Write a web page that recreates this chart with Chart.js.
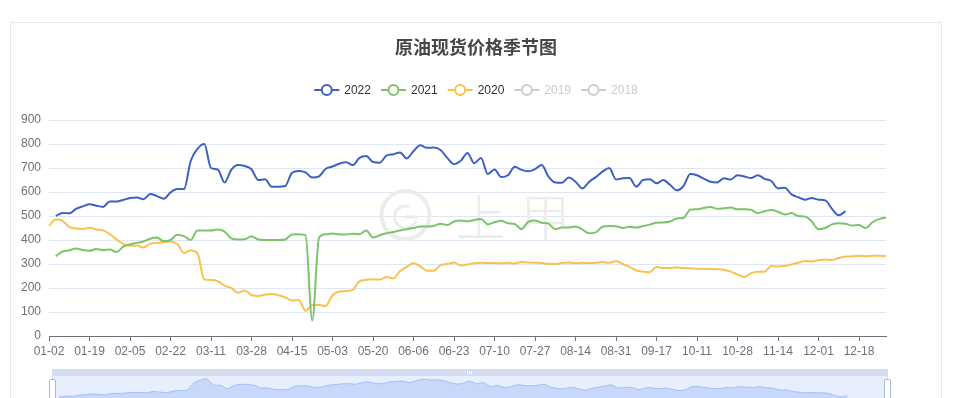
<!DOCTYPE html>
<html><head><meta charset="utf-8">
<script src="https://cdn.jsdelivr.net/npm/chart.js@4.4.1/dist/chart.umd.min.js"></script>
<style>
html,body{margin:0;padding:0;background:#fff;width:955px;height:398px;overflow:hidden;}
#box{position:absolute;left:10px;top:22px;width:930px;height:420px;border:1px solid #e6e6e6;}
#main{position:absolute;left:0;top:0;}
#sliderBg{position:absolute;left:52px;top:375px;width:836px;height:32px;background:#e7eefd;border:1px solid #d2dbee;box-sizing:border-box;}
#sliderBar{position:absolute;left:52px;top:369px;width:836px;height:7px;background:#d4ddef;}
.grip{position:absolute;top:371px;width:1px;height:3px;background:#fff;}
#mini{position:absolute;left:52px;top:376px;}
.handle{position:absolute;top:379px;width:5px;height:26px;background:#fff;border:1px solid #acb8d1;border-radius:2px;}
</style></head>
<body>
<div id="box"></div>
<canvas id="main" width="955" height="398"></canvas>
<div id="sliderBar"></div>
<div class="grip" style="left:467px"></div><div class="grip" style="left:469px"></div><div class="grip" style="left:471px"></div>
<div id="sliderBg"></div>
<canvas id="mini" width="836" height="30"></canvas>
<div class="handle" style="left:49px"></div>
<div class="handle" style="left:884px"></div>
<script>
const chartTitle = '原油现货价格季节图';
const seriesNames = ['2022', '2021', '2020', '2019', '2018'];
const tickEvery = 6;
const categories = [
 '01-02','01-05','01-08','01-10','01-13','01-16','01-19','01-22','01-25','01-27','01-30','02-02',
 '02-05','02-08','02-11','02-13','02-16','02-19','02-22','02-25','02-28','03-02','03-05','03-08',
 '03-11','03-14','03-17','03-19','03-22','03-25','03-28','03-31','04-03','04-06','04-09','04-12',
 '04-15','04-18','04-21','04-24','04-27','04-30','05-03','05-06','05-09','05-11','05-14','05-17',
 '05-20','05-23','05-26','05-28','05-31','06-03','06-06','06-09','06-12','06-14','06-17','06-20',
 '06-23','06-26','06-29','07-01','07-04','07-07','07-10','07-13','07-16','07-18','07-21','07-24',
 '07-27','07-30','08-02','08-05','08-08','08-11','08-14','08-17','08-20','08-22','08-25','08-28',
 '08-31','09-03','09-06','09-08','09-11','09-14','09-17','09-21','09-25','09-29','10-03','10-07',
 '10-11','10-14','10-17','10-19','10-22','10-25','10-28','10-31','11-03','11-05','11-08','11-11',
 '11-14','11-17','11-20','11-22','11-25','11-28','12-01','12-04','12-07','12-09','12-12','12-15',
 '12-18','12-21','12-24','12-27','12-30'];
const s2022 = [null,500,513,511,530,540,549,543,538,560,
 560,567,575,577,570,592,583,572,598,612,
 612,730,780,800,700,694,640,692,712,708,
 695,650,653,622,622,625,680,688,682,660,
 665,697,706,718,724,712,742,750,725,722,
 752,757,765,740,770,795,784,785,775,742,
 716,730,763,720,742,675,694,662,670,705,
 692,686,695,712,664,640,639,660,643,615,
 642,662,685,700,652,657,658,622,650,653,
 636,650,630,607,625,675,670,656,643,640,
 657,652,670,665,658,670,655,646,615,618,
 590,578,568,575,568,565,530,503,520,null,
 null,null,null,null,null];
const s2021 = [null,332,352,357,365,358,355,362,358,360,
 350,372,382,388,394,405,410,395,400,422,
 416,400,440,440,440,444,435,407,402,403,
 416,402,400,400,400,402,423,424,420,65,
 410,424,427,424,423,426,424,440,410,420,
 428,433,440,445,450,456,456,458,468,462,
 477,481,478,483,488,465,474,480,470,467,
 445,476,481,472,468,445,452,452,456,444,
 428,432,455,458,457,450,455,452,458,464,
 472,473,477,490,492,526,528,533,538,530,
 532,535,528,528,526,512,520,525,518,506,
 512,500,498,477,445,450,465,470,468,460,
 462,450,474,488,493];
const s2020 = [460,485,480,455,448,446,451,444,440,425,
 402,384,376,377,369,385,388,392,394,383,
 346,357,344,236,233,228,210,200,180,190,
 171,167,172,175,170,161,148,150,105,129,
 129,125,170,185,187,192,228,234,236,235,
 246,240,270,288,303,290,272,272,295,300,
 306,294,298,303,305,304,304,303,305,302,
 308,306,305,304,301,300,304,306,303,305,
 304,305,308,305,312,300,288,273,268,266,
 288,283,283,286,282,282,280,280,279,278,
 276,268,256,246,262,268,268,292,290,292,
 298,305,313,310,316,319,317,325,331,332,
 334,332,334,334,333];
const s2019 = [];
const s2018 = [];
const yTicks = {min: 0, max: 900, step: 100};

const colors = ['#3f5fc1', '#7cc36a', '#f9c14f', '#cccccc', '#cccccc'];
const FONT = '"Liberation Sans", "Noto Sans CJK SC", sans-serif';
Chart.defaults.font.family = FONT;

const decor = {
  id: 'decor',
  beforeDatasetsDraw(chart) {
    const ctx = chart.ctx, a = chart.chartArea;
    const cx = (a.left + a.right) / 2, cy = (a.top + a.bottom) / 2 - 13;
    ctx.save();
    ctx.strokeStyle = '#ececec';
    ctx.lineWidth = 4;
    ctx.beginPath(); ctx.arc(cx - 62, cy, 24, 0, Math.PI * 2); ctx.stroke();
    ctx.lineWidth = 3;
    ctx.beginPath(); ctx.arc(cx - 62, cy + 2, 11, Math.PI * 0.1, Math.PI * 1.6); ctx.stroke();
    ctx.beginPath(); ctx.moveTo(cx - 62, cy + 2); ctx.lineTo(cx - 50, cy + 2); ctx.stroke();
    ctx.fillStyle = '#ececec';
    ctx.font = '300 50px "Noto Sans CJK SC", sans-serif';
    ctx.textAlign = 'center'; ctx.textBaseline = 'middle';
    ctx.fillText('上', cx + 13, cy + 2);
    ctx.fillText('甲', cx + 78, cy + 2);
    ctx.restore();
  },
  afterDraw(chart) {
    const ctx = chart.ctx;
    const mid = 476;
    ctx.save();
    ctx.fillStyle = '#464646';
    ctx.font = 'bold 18px "Noto Sans CJK SC", sans-serif';
    ctx.textAlign = 'center'; ctx.textBaseline = 'middle';
    ctx.fillText(chartTitle, mid, 47);
    // legend
    ctx.font = '12px ' + FONT;
    const iconW = 25, gap = 5, itemGap = 10, y = 90;
    const items = chart.data.datasets.map((d, i) => ({text: d.label, color: colors[i], off: !!d.hidden}));
    let total = 0;
    items.forEach((it, i) => { it.w = iconW + gap + ctx.measureText(it.text).width; total += it.w + (i ? itemGap : 0); });
    let x = mid - total / 2;
    ctx.textAlign = 'left';
    items.forEach(it => {
      ctx.strokeStyle = it.color; ctx.lineWidth = 2;
      ctx.beginPath(); ctx.moveTo(x, y); ctx.lineTo(x + iconW, y); ctx.stroke();
      ctx.beginPath(); ctx.arc(x + iconW / 2, y, 5, 0, Math.PI * 2);
      ctx.fillStyle = '#fff'; ctx.fill(); ctx.stroke();
      ctx.fillStyle = it.off ? '#cccccc' : '#333333';
      ctx.fillText(it.text, x + iconW + gap, y + 1);
      x += it.w + itemGap;
    });
    ctx.restore();
  }
};

const mk = (i, data) => ({
  label: seriesNames[i], data, borderColor: colors[i], backgroundColor: colors[i],
  borderWidth: 2, pointRadius: 0, fill: false, spanGaps: false,
  cubicInterpolationMode: 'monotone', hidden: i >= 3
});

new Chart(document.getElementById('main'), {
  type: 'line',
  data: {
    labels: categories,
    datasets: [mk(0, s2022), mk(1, s2021), mk(2, s2020), mk(3, s2019), mk(4, s2018)]
  },
  options: {
    responsive: false, animation: false, devicePixelRatio: 1,
    layout: {padding: {left: 10, right: 69, top: 120, bottom: 32}},
    plugins: {legend: {display: false}, title: {display: false}, tooltip: {enabled: false}},
    scales: {
      x: {
        type: 'category', offset: false,
        grid: {drawOnChartArea: false, drawTicks: true, tickLength: 5, color: '#6E7079'},
        border: {display: true, color: '#6E7079', width: 1},
        ticks: {autoSkip: false, maxRotation: 0, minRotation: 0, color: '#6E7079', font: {size: 12}, padding: 3},
        afterBuildTicks: s => { s.ticks = s.ticks.filter(t => t.value % tickEvery === 0); },
        afterFit: s => { s.height = 30; }
      },
      y: {
        min: yTicks.min, max: yTicks.max,
        ticks: {stepSize: yTicks.step, color: '#6E7079', font: {size: 12}, padding: 8},
        grid: {color: '#E0E6F1', drawTicks: false},
        border: {display: false},
        afterFit: s => { s.width = 39; }
      }
    }
  },
  plugins: [decor]
});

new Chart(document.getElementById('mini'), {
  type: 'line',
  data: {labels: categories, datasets: [{data: s2022, fill: 'start', backgroundColor: 'rgba(143,176,247,0.35)',
    borderColor: 'rgba(143,176,247,0.9)', borderWidth: 0.8, pointRadius: 0, tension: 0.3}]},
  options: {
    responsive: false, animation: false, devicePixelRatio: 1,
    layout: {padding: 0},
    plugins: {legend: {display: false}, tooltip: {enabled: false}},
    scales: {x: {display: false, offset: false}, y: {display: false, min: 350, max: 850}}
  }
});
</script>
</body></html>
